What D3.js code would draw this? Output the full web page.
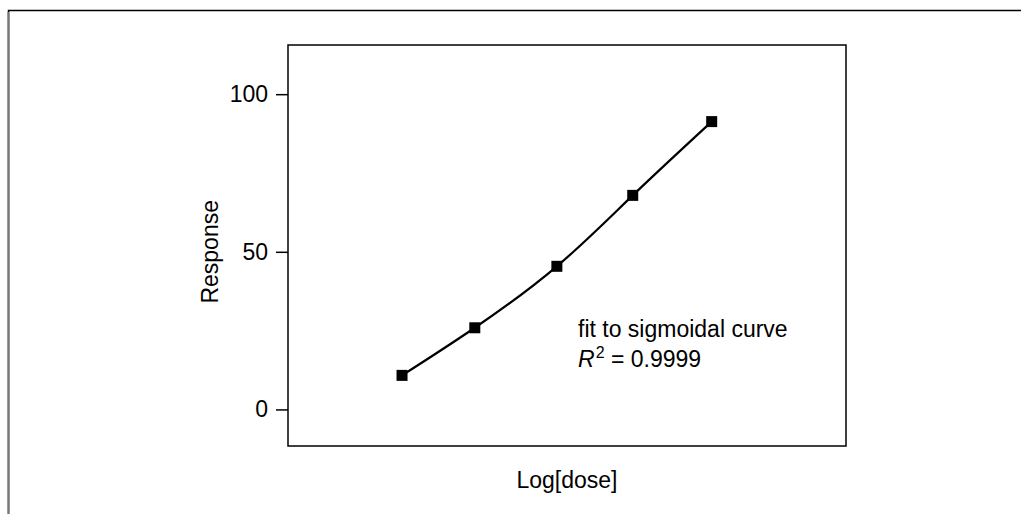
<!DOCTYPE html>
<html>
<head>
<meta charset="utf-8">
<script src="https://cdn.jsdelivr.net/npm/d3@7"></script>
<style>
  body { margin: 0; background: #fff; }
  svg { display: block; font-family: "Liberation Sans", Arial, sans-serif; }
</style>
</head>
<body>
<script>
// data
let logDose = [1, 1.94, 3.0, 3.98, 5.0];
let response = [10.8, 25.9, 45.4, 67.9, 91.3];
let yTicks = [0, 50, 100];
let xLabel = "Log[dose]",
    yLabel = "Response",
    note1 = "fit to sigmoidal curve",
    note2 = " = 0.9999";

let W = 1021, H = 514, fs = 23;
let m = { top: 45, left: 288, bottom: 68, right: 175 },
    w = W - m.left - m.right,
    h = H - m.top - m.bottom;

let svg = d3.select("body").append("svg")
  .attr("width", W)
  .attr("height", H);

// outer frame (runs off the right and bottom)
svg.append("path")
  .attr("d", "M8.5," + H + "V10.5H" + W)
  .attr("fill", "none")
  .attr("stroke", "#000")
  .attr("stroke-width", 1.5);
svg.append("line")
  .attr("x1", 8.5).attr("x2", 8.5).attr("y1", 12).attr("y2", H)
  .attr("stroke", "#777").attr("stroke-width", 2);

let g = svg.append("g")
  .attr("transform", "translate(" + m.left + "," + m.top + ")");

let x = d3.scaleLinear()
  .domain([-0.473, 6.735])
  .range([0, w]);
let y = d3.scaleLinear()
  .domain([-11.6, 115.6])
  .range([h, 0]);

// plot box
g.append("rect")
  .attr("width", w).attr("height", h)
  .attr("fill", "none")
  .attr("stroke", "#000")
  .attr("stroke-width", 1.5);

// y axis
let ya = g.append("g")
  .call(d3.axisLeft(y).tickValues(yTicks).tickSize(12).tickPadding(8));
ya.select(".domain").remove();
ya.selectAll("line").attr("stroke", "#000").attr("stroke-width", 1.5);
ya.selectAll("text")
  .attr("font-size", fs)
  .attr("fill", "#000")
  .style("font-family", "'Liberation Sans', Arial, sans-serif");

let data = logDose.map((d, i) => ({ x: d, y: response[i] }));

let line = d3.line()
  .x(d => x(d.x))
  .y(d => y(d.y))
  .curve(d3.curveNatural);

g.append("path")
  .datum(data)
  .attr("fill", "none")
  .attr("stroke", "#000")
  .attr("stroke-width", 2.2)
  .attr("d", line);

let s = 11;
g.selectAll("rect.pt")
  .data(data)
  .enter().append("rect")
  .attr("class", "pt")
  .attr("x", d => x(d.x) - s / 2)
  .attr("y", d => y(d.y) - s / 2)
  .attr("width", s).attr("height", s)
  .attr("fill", "#000");

// annotation
g.append("text")
  .attr("x", 290).attr("y", 336.7 - m.top)
  .attr("font-size", fs)
  .text(note1);

let t2 = g.append("text")
  .attr("x", 290).attr("y", 366.7 - m.top)
  .attr("font-size", fs);
t2.append("tspan").attr("font-style", "italic").text("R");
t2.append("tspan").attr("font-size", 16).attr("dy", -9).attr("dx", 1).text("2");
t2.append("tspan").attr("dy", 9).text(note2);

// axis labels
g.append("text")
  .attr("x", w / 2)
  .attr("y", h + 42)
  .attr("text-anchor", "middle")
  .attr("font-size", fs)
  .text(xLabel);

g.append("text")
  .attr("transform", "translate(" + (-70) + "," + (y(50)) + ") rotate(-90)")
  .attr("text-anchor", "middle")
  .attr("font-size", fs)
  .text(yLabel);
</script>
</body>
</html>
